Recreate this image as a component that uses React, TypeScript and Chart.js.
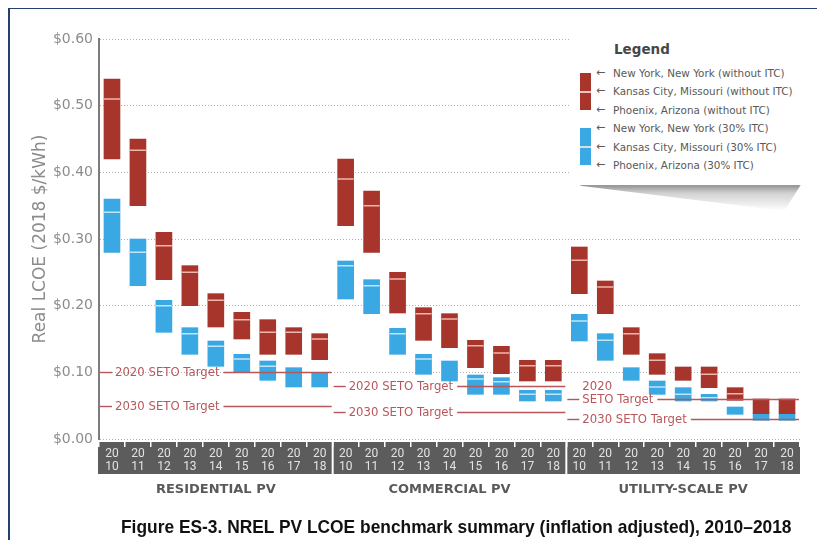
import React, { useEffect, useRef } from 'react';
import { Chart, registerables } from 'chart.js';
Chart.register(...registerables);

// ---------- data ----------
const years = ['2010', '2011', '2012', '2013', '2014', '2015', '2016', '2017', '2018'];
const segments = ['RESIDENTIAL PV', 'COMMERCIAL PV', 'UTILITY-SCALE PV'];

// Residential (without ITC: New York / Kansas City / Phoenix)
const resNoItcNY = [0.54, 0.45, 0.31, 0.26, 0.218, 0.19, 0.179, 0.167, 0.158];
const resNoItcKC = [0.51, 0.433, 0.29, 0.25, 0.208, 0.179, 0.16, 0.16, 0.15];
const resNoItcPHX = [0.42, 0.35, 0.239, 0.2, 0.168, 0.15, 0.127, 0.127, 0.119];
// Residential (30% ITC)
const resItcNY = [0.36, 0.3, 0.208, 0.167, 0.147, 0.127, 0.117, 0.107, 0.1];
const resItcKC = [0.34, 0.28, 0.2, 0.158, 0.139, 0.12, 0.109, null, null];
const resItcPHX = [0.28, 0.23, 0.16, 0.127, 0.109, 0.1, 0.088, 0.078, 0.078];

// Commercial
const comNoItcNY = [0.42, 0.372, 0.25, 0.197, 0.188, 0.148, 0.139, 0.118, 0.118];
const comNoItcKC = [0.39, 0.35, 0.24, 0.188, 0.18, 0.14, 0.129, 0.11, 0.11];
const comNoItcPHX = [0.32, 0.28, 0.189, 0.148, 0.137, 0.107, 0.098, 0.087, 0.087];
const comItcNY = [0.267, 0.239, 0.166, 0.127, 0.117, 0.096, 0.092, 0.073, 0.073];
const comItcKC = [0.26, 0.23, 0.158, 0.12, null, 0.09, 0.086, 0.067, 0.067];
const comItcPHX = [0.21, 0.188, 0.127, 0.097, 0.087, 0.067, 0.067, 0.057, 0.057];

// Utility-scale
const utilNoItcNY = [0.288, 0.237, 0.167, 0.128, 0.108, 0.108, 0.077, 0.06, 0.06];
const utilNoItcKC = [0.268, 0.228, 0.158, 0.118, null, 0.097, 0.068, null, null];
const utilNoItcPHX = [0.218, 0.188, 0.127, 0.097, 0.088, 0.077, 0.058, 0.038, 0.038];
const utilItcNY = [0.187, 0.158, 0.107, 0.087, 0.077, 0.067, 0.048, 0.038, 0.038];
const utilItcKC = [0.177, 0.148, null, 0.078, 0.067, 0.062, null, null, null];
const utilItcPHX = [0.147, 0.118, 0.088, 0.067, 0.057, 0.057, 0.037, 0.028, 0.028];

// SETO targets per segment
const target2020 = [0.1, 0.08, 0.06];
const target2030 = [0.05, 0.04, 0.03];
const target2020Text = [['2020 SETO Target'], ['2020 SETO Target'], ['2020', 'SETO Target']];
const target2030Text = [['2030 SETO Target'], ['2030 SETO Target'], ['2030 SETO Target']];

const legendItems = [
  'New York, New York (without ITC)',
  'Kansas City, Missouri (without ITC)',
  'Phoenix, Arizona (without ITC)',
  'New York, New York (30% ITC)',
  'Kansas City, Missouri (30% ITC)',
  'Phoenix, Arizona (30% ITC)',
];
const yAxisTitle = 'Real LCOE (2018 $/kWh)';
const caption = 'Figure ES-3. NREL PV LCOE benchmark summary (inflation adjusted), 2010\u20132018';

// ---------- derived ----------
const noItcNY = [...resNoItcNY, ...comNoItcNY, ...utilNoItcNY];
const noItcKC = [...resNoItcKC, ...comNoItcKC, ...utilNoItcKC];
const noItcPHX = [...resNoItcPHX, ...comNoItcPHX, ...utilNoItcPHX];
const itcNY = [...resItcNY, ...comItcNY, ...utilItcNY];
const itcKC = [...resItcKC, ...comItcKC, ...utilItcKC];
const itcPHX = [...resItcPHX, ...comItcPHX, ...utilItcPHX];
const tickLabels = segments.flatMap(() => years.map((y) => [y.slice(0, 2), y.slice(2)]));

const RED = '#a8352c';
const BLUE = '#3aa8e2';
const TARGET = '#b9565b';
const FONT = "'DejaVu Sans', sans-serif";

function groupEdges(chart: any, gi: number) {
  const x = chart.scales.x;
  const n = years.length;
  const half = (x.getPixelForValue(1) - x.getPixelForValue(0)) / 2;
  const l = x.getPixelForValue(gi * n) - half;
  const r = x.getPixelForValue(gi * n + n - 1) + half;
  return { l, r };
}

const bandPlugin = {
  id: 'band',
  beforeDraw(chart: any) {
    const ctx = chart.ctx;
    const area = chart.chartArea;
    ctx.save();
    ctx.fillStyle = '#5c5c5c';
    segments.forEach((_, gi) => {
      const { l, r } = groupEdges(chart, gi);
      const left = gi === 0 ? l - 1 : l + 1;
      const right = gi === segments.length - 1 ? r : r - 1;
      ctx.fillRect(left, area.bottom + 3, right - left, 32);
    });
    ctx.restore();
  },
};

const targetPlugin = {
  id: 'targets',
  afterDatasetsDraw(chart: any) {
    const ctx = chart.ctx;
    const y = chart.scales.y;
    ctx.save();
    ctx.font = `11.7px ${FONT}`;
    ctx.fillStyle = TARGET;
    ctx.strokeStyle = TARGET;
    ctx.lineWidth = 1.4;
    ctx.textBaseline = 'middle';
    const seg = (x1: number, x2: number, py: number) => {
      ctx.beginPath();
      ctx.moveTo(x1, py);
      ctx.lineTo(x2, py);
      ctx.stroke();
    };
    segments.forEach((_, gi) => {
      const { l, r } = groupEdges(chart, gi);
      ([[target2020, target2020Text], [target2030, target2030Text]] as any[]).forEach(([vals, texts]) => {
        const py = Math.round(y.getPixelForValue(vals[gi])) + 0.5;
        const lines: string[] = texts[gi];
        seg(l + 1, l + 13, py);
        const tx = l + 16;
        lines.forEach((t, k) => ctx.fillText(t, tx, py - (lines.length - 1 - k) * 13));
        const w = ctx.measureText(lines[lines.length - 1]).width;
        seg(tx + w + 4, r - 1, py);
      });
    });
    ctx.restore();
  },
};

const P = (v: number) => v - 8;

export default function App() {
  const canvasRef = useRef<HTMLCanvasElement>(null);
  const capRef = useRef<HTMLDivElement>(null);

  useEffect(() => {
    const floating = (lo: (number | null)[], hi: (number | null)[]) => lo.map((v, i) => [v, hi[i]]);
    const chart = new Chart(canvasRef.current as HTMLCanvasElement, {
      type: 'bar',
      data: {
        labels: tickLabels,
        datasets: [
          {
            type: 'line',
            label: 'KC without ITC',
            data: noItcKC,
            showLine: false,
            pointStyle: 'line',
            pointRadius: 8,
            pointBorderWidth: 1.5,
            pointBorderColor: 'rgba(255,215,205,0.8)',
            pointBackgroundColor: 'rgba(255,215,205,0.8)',
            order: 0,
          } as any,
          {
            type: 'line',
            label: 'KC 30% ITC',
            data: itcKC,
            showLine: false,
            pointStyle: 'line',
            pointRadius: 8,
            pointBorderWidth: 1.5,
            pointBorderColor: 'rgba(215,240,255,0.85)',
            pointBackgroundColor: 'rgba(215,240,255,0.85)',
            order: 0,
          } as any,
          {
            type: 'bar',
            label: 'without ITC',
            data: floating(noItcPHX, noItcNY) as any,
            backgroundColor: RED,
            barThickness: 16,
            grouped: false,
            order: 2,
          } as any,
          {
            type: 'bar',
            label: '30% ITC',
            data: floating(itcPHX, itcNY) as any,
            backgroundColor: BLUE,
            barThickness: 16,
            grouped: false,
            order: 2,
          } as any,
        ],
      },
      options: {
        responsive: false,
        animation: false,
        devicePixelRatio: 1,
        events: [],
        layout: { padding: { left: 0, right: 27, top: 37, bottom: 46 } },
        plugins: { legend: { display: false }, tooltip: { enabled: false }, title: { display: false } },
        scales: {
          x: {
            type: 'category',
            offset: true,
            weight: 0,
            grid: { display: true, drawOnChartArea: false, drawTicks: true, tickLength: 8, color: '#ffffff', lineWidth: 1.5, offset: true },
            border: { display: false },
            ticks: {
              color: '#e2e2e2',
              font: { family: "'Liberation Sans Narrow', 'Roboto', sans-serif", size: 12, lineHeight: 1.1 },
              padding: 0,
              maxRotation: 0,
              minRotation: 0,
              autoSkip: false,
            },
            afterFit: (s: any) => { s.height = 36; },
          },
          x2: {
            type: 'category',
            labels: segments,
            position: 'bottom',
            offset: true,
            weight: 1,
            grid: { display: false, drawTicks: false },
            border: { display: false },
            ticks: { color: '#5a5a5a', font: { family: FONT, size: 13, weight: 'bold' }, padding: 7, maxRotation: 0, autoSkip: false },
            afterFit: (s: any) => { s.height = 30; },
          },
          y: {
            min: 0,
            max: 0.6,
            ticks: {
              stepSize: 0.1,
              color: '#8c8c8c',
              font: { family: FONT, size: 14 },
              padding: 6,
              callback: (v: any) => '$' + Number(v).toFixed(2),
            },
            grid: { color: '#b0b0b0', drawTicks: false, lineWidth: 1 },
            border: { display: true, color: '#7c7c7c', width: 2, dash: [1, 2] },
            title: {
              display: true,
              text: yAxisTitle,
              color: '#8c8c8c',
              font: { family: FONT, size: 17 },
              padding: { top: 28, bottom: 0 },
            },
            afterFit: (s: any) => { s.width = 97; },
          },
        },
      } as any,
      plugins: [bandPlugin, targetPlugin],
    });
    const cap = capRef.current;
    if (cap) {
      const w = cap.scrollWidth;
      if (w > 0) cap.style.transform = `scaleX(${671 / w})`;
    }
    return () => chart.destroy();
  }, []);

  const rowY = (i: number) => 72 + i * 18.4;

  return (
    <div
      style={{
        position: 'relative',
        width: 809,
        height: 533,
        boxSizing: 'border-box',
        borderLeft: '2px solid #23416f',
        borderTop: '2px solid #23416f',
        marginTop: -1,
      }}
    >
      <canvas
        ref={canvasRef}
        width={825}
        height={549}
        style={{ position: 'absolute', left: -8, top: -7, width: 825, height: 549 }}
      />
      {/* legend shadow */}
      <div
        style={{
          position: 'absolute',
          left: P(578),
          top: P(182),
          width: 222,
          height: 28,
          background: 'linear-gradient(to bottom, rgba(0,0,0,0.5) 0%, rgba(0,0,0,0.18) 35%, rgba(0,0,0,0) 100%)',
          clipPath: 'polygon(0% 0%, 100% 0%, 92% 100%, 0% 10%)',
          filter: 'blur(1.5px)',
        }}
      />
      {/* legend box */}
      <div
        style={{
          position: 'absolute',
          left: P(568),
          top: P(30),
          width: 232,
          height: 154,
          background: '#ffffff',
        }}
      />
      <div
        style={{
          position: 'absolute',
          left: P(612),
          top: P(39),
          fontFamily: FONT,
          fontWeight: 'bold',
          fontSize: 13.5,
          color: '#474747',
          lineHeight: '18px',
          whiteSpace: 'nowrap',
        }}
      >
        Legend
      </div>
      {[0, 1].map((k) => (
        <div
          key={k}
          style={{
            position: 'absolute',
            left: P(578),
            top: P(k === 0 ? 72 : 127),
            width: 11,
            height: 37,
            background: k === 0 ? RED : BLUE,
          }}
        >
          <div style={{ position: 'absolute', left: 0, top: 18, width: 11, height: 1.5, background: 'rgba(255,235,230,0.8)' }} />
        </div>
      ))}
      {legendItems.map((t, i) => (
        <div
          key={t}
          style={{
            position: 'absolute',
            left: P(594),
            top: P(rowY(i) - 8),
            height: 16,
            lineHeight: '16px',
            fontFamily: FONT,
            fontSize: 10.4,
            color: '#595959',
            whiteSpace: 'nowrap',
            display: 'flex',
            alignItems: 'center',
          }}
        >
          <span style={{ display: 'inline-block', width: 17, fontSize: 11 }}>{'\u2190'}</span>
          <span>{t}</span>
        </div>
      ))}
      <div
        ref={capRef}
        style={{
          position: 'absolute',
          left: P(119),
          top: P(515),
          fontFamily: "'Liberation Sans', Arial, sans-serif",
          fontWeight: 'bold',
          fontSize: 19,
          lineHeight: '22px',
          color: '#111',
          whiteSpace: 'nowrap',
          display: 'inline-block',
          transformOrigin: 'left center',
        }}
      >
        {caption}
      </div>
    </div>
  );
}
